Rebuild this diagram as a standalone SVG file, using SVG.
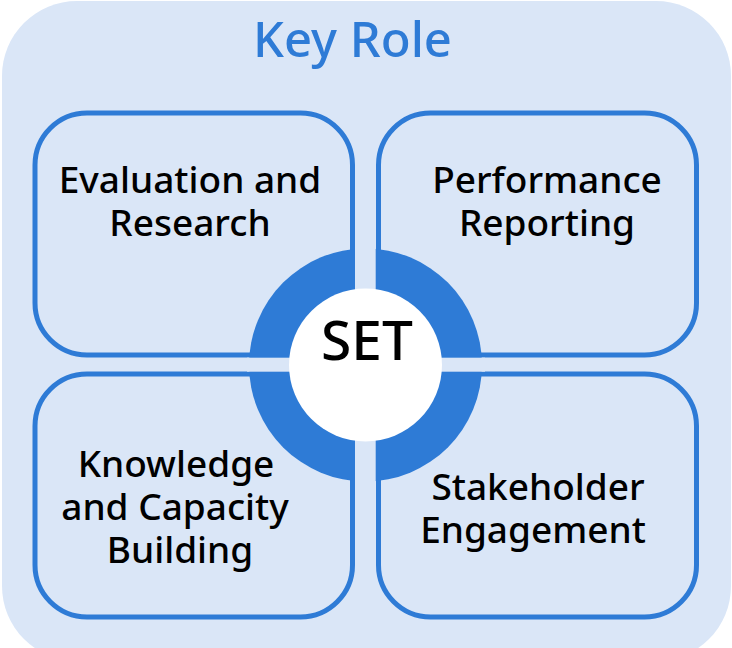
<svg xmlns="http://www.w3.org/2000/svg" width="732" height="648" viewBox="0 0 732 648">
<style>
.box{fill:#dae6f7;stroke:#2e7bd6;stroke-width:5}
.lbl{font-family:"Noto Sans","Open Sans",sans-serif;font-size:37px;font-weight:500;fill:#000;text-anchor:middle}
.title{font-family:"Noto Sans","Open Sans",sans-serif;font-size:49px;font-weight:500;fill:#2e7bd6;text-anchor:middle}
</style>
<g id="background">
<rect x="2" y="1" width="729" height="660" rx="75" fill="#dae6f7"/>
<text class="title" x="352.5" y="57">Key Role</text>
</g>
<g id="node-evaluation">
<rect class="box" x="35" y="113" width="317.5" height="242" rx="52"/>
<text class="lbl" x="190" y="193">Evaluation and</text>
<text class="lbl" x="190" y="236">Research</text>
</g>
<g id="node-performance">
<rect class="box" x="378.5" y="113" width="318" height="242" rx="52"/>
<text class="lbl" x="547" y="193">Performance</text>
<text class="lbl" x="547" y="236">Reporting</text>
</g>
<g id="node-knowledge">
<rect class="box" x="35" y="374" width="317.5" height="243" rx="52"/>
<text class="lbl" x="176" y="477">Knowledge</text>
<text class="lbl" x="175" y="520">and Capacity</text>
<text class="lbl" x="180" y="563">Building</text>
</g>
<g id="node-stakeholder">
<rect class="box" x="378.5" y="374" width="318" height="243" rx="52"/>
<text class="lbl" x="538" y="500">Stakeholder</text>
<text class="lbl" x="533" y="543">Engagement</text>
</g>
<g id="connectors"></g>
<g id="node-set">
<circle cx="365.5" cy="365" r="116.5" fill="#2e7bd6"/>
<rect x="355" y="246" width="20.7" height="238" fill="#dae6f7"/>
<rect x="247" y="357.7" width="238" height="14" fill="#dae6f7"/>
<circle cx="365.5" cy="365" r="76.5" fill="#fff"/>
<text x="367" y="360" font-family="Noto Sans, Open Sans, sans-serif" font-size="55" font-weight="500" text-anchor="middle" fill="#000">SET</text>
</g>
</svg>
